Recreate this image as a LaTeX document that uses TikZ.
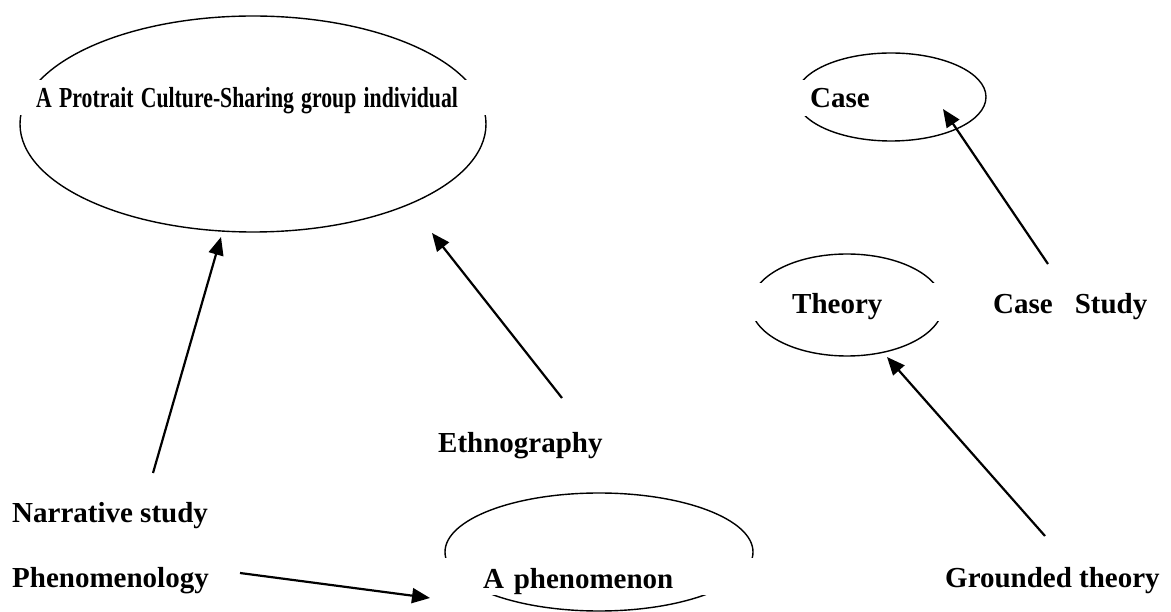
\documentclass[tikz,border=0pt]{standalone}
\usepackage{fontspec}
\usepackage{graphicx}
\setmainfont{Liberation Serif}
\usetikzlibrary{arrows.meta,shapes.geometric}
\begin{document}
\begin{tikzpicture}[x=1pt,y=-1pt,
  oval/.style={ellipse, draw, line width=1.4pt, inner sep=0pt},
  lbl/.style={font=\fontsize{29}{34}\selectfont\bfseries, anchor=base west, inner sep=0pt},
  boxed/.style={lbl, fill=white, align=left},
  link/.style={line width=2.2pt, -{Triangle[length=18pt,width=15pt]}}
]
\useasboundingbox (0,0) rectangle (1171,612);

% ovals
\node[oval, minimum width=466pt, minimum height=216pt] (portraitOval) at (253,124) {};
\node[oval, minimum width=190pt, minimum height=88pt]  (caseOval)     at (891,97)  {};
\node[oval, minimum width=192pt, minimum height=102pt] (theoryOval)   at (847,305) {};
\node[oval, minimum width=308pt, minimum height=118pt] (phenOval)     at (599,552) {};

% labels sitting in white boxes that break the ovals
\node[boxed, text height=28pt, text depth=7pt,
      inner xsep=24pt, text width=437pt] (portrait) at (12,108)
      {\scalebox{0.75}[1]{A Protrait Culture-Sharing group individual}};
\node[boxed, text height=28pt, text depth=8pt, inner xsep=20pt] (case) at (790,108) {Case};
\node[boxed, text height=31pt, text depth=7pt, inner xsep=47pt, text width=111pt] (theory) at (745,314) {Theory};
\node[boxed, text height=30pt, text depth=7pt, inner xsep=43pt, text width=234pt] (phen) at (440,588) {A phenomenon};

% free labels
\node[lbl] (casestudy) at (993,314) {Case\hspace{22pt}Study};
\node[lbl] (ethno)     at (438,453) {Ethnography};
\node[lbl] (narr)      at (12,522)  {Narrative study};
\node[lbl] (phenlogy)  at (12,587)  {Phenomenology};
\node[lbl] (grounded)  at (945,587) {Grounded theory};

% arrow ends
\coordinate (narrTail)  at (153,473);
\coordinate (narrTip)   at (221,237);
\coordinate (ethnoTail) at (562,398);
\coordinate (ethnoTip)  at (432,233);
\coordinate (caseTail)  at (1048,264);
\coordinate (caseTip)   at (943,109);
\coordinate (grTail)    at (1045,536);
\coordinate (grTip)     at (887,357);
\coordinate (phTail)    at (240,573);
\coordinate (phTip)     at (430,598);

\draw[link] (narrTail)  -- (narrTip);
\draw[link] (ethnoTail) -- (ethnoTip);
\draw[link] (caseTail)  -- (caseTip);
\draw[link] (grTail)    -- (grTip);
\draw[link] (phTail)    -- (phTip);
\end{tikzpicture}
\end{document}
